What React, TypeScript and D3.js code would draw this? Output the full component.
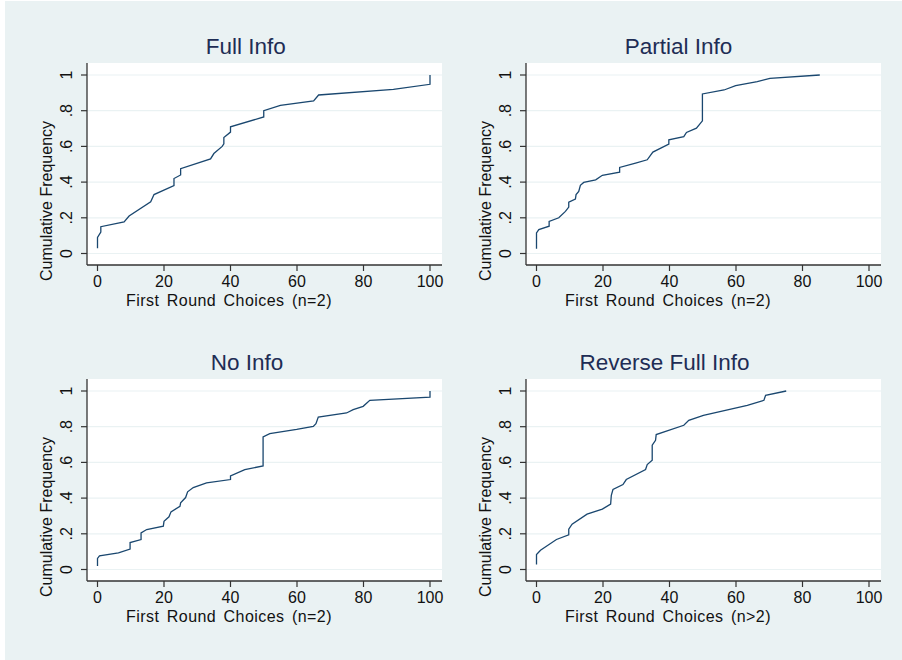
import React, { useRef, useEffect } from "react";
import * as d3 from "d3";

// cumulative frequency curves, [choice, cumulative share]
const fullInfo: [number, number][] = [
  [0, 0.03], [0, 0.09], [1, 0.12], [1, 0.15], [8, 0.177], [9.5, 0.21], [16, 0.29],
  [17, 0.33], [23, 0.38], [23, 0.42], [25, 0.44], [25, 0.475], [34, 0.53], [35, 0.56],
  [37.5, 0.6], [38, 0.614], [38, 0.65], [40, 0.68], [40, 0.71], [50, 0.765], [50, 0.8],
  [55, 0.83], [65, 0.855], [66.5, 0.888], [89, 0.92], [100, 0.948], [100, 1],
];

const partialInfo: [number, number][] = [
  [0, 0.026], [0, 0.115], [0.7, 0.134], [3.8, 0.153], [3.8, 0.18], [6.7, 0.2], [8.7, 0.236],
  [9.7, 0.26], [9.7, 0.287], [11.7, 0.305], [11.9, 0.33], [12.7, 0.348], [13.2, 0.382],
  [14.2, 0.398], [17.8, 0.413], [19.8, 0.438], [25, 0.456], [25, 0.482], [29.8, 0.506],
  [33.3, 0.525], [35, 0.568], [39.8, 0.613], [39.8, 0.637], [44.3, 0.655], [45.1, 0.678],
  [48.1, 0.702], [49.9, 0.743], [49.9, 0.894], [56.4, 0.916], [59.9, 0.94], [66.4, 0.963],
  [70.2, 0.981], [85.2, 1],
];

const noInfo: [number, number][] = [
  [0, 0.019], [0, 0.062], [0.6, 0.076], [6.3, 0.093], [9.8, 0.114], [9.8, 0.151],
  [13.1, 0.168], [13.1, 0.205], [14.8, 0.224], [19.8, 0.243], [20, 0.27], [21.5, 0.295],
  [22.1, 0.323], [24.8, 0.354], [25, 0.373], [26.5, 0.403], [27.1, 0.435], [28.8, 0.459],
  [32.8, 0.485], [40, 0.504], [40, 0.524], [44.3, 0.56], [49.8, 0.58], [49.8, 0.743],
  [51.8, 0.761], [59.9, 0.785], [64.9, 0.802], [65.7, 0.817], [66.4, 0.854], [74.9, 0.877],
  [76.9, 0.896], [79.9, 0.914], [81.9, 0.948], [100, 0.966], [100, 1],
];

const reverseFullInfo: [number, number][] = [
  [0, 0.028], [0, 0.084], [1.2, 0.108], [6, 0.168], [9.7, 0.194], [9.7, 0.226],
  [10.7, 0.254], [15.2, 0.31], [19.8, 0.338], [22.3, 0.366], [22.5, 0.416], [23, 0.448],
  [26, 0.476], [27, 0.504], [32.8, 0.56], [33.3, 0.588], [34.8, 0.612], [34.8, 0.696],
  [35.8, 0.724], [36, 0.756], [44.3, 0.808], [45.8, 0.836], [50.2, 0.864], [63.4, 0.92],
  [68.4, 0.948], [68.9, 0.976], [75.1, 1],
];

const titles = ["Full Info", "Partial Info", "No Info", "Reverse Full Info"];
const xTitles = [
  "First Round Choices (n=2)",
  "First Round Choices (n=2)",
  "First Round Choices (n=2)",
  "First Round Choices (n>2)",
];
const series = [fullInfo, partialInfo, noInfo, reverseFullInfo];
const xTicks = [0, 20, 40, 60, 80, 100];
const yTicks = [0, 0.2, 0.4, 0.6, 0.8, 1];
const yTickLabels = ["0", ".2", ".4", ".6", ".8", "1"];

// panel placement
const boxLeft = [87, 526, 87, 526];
const boxTop = [63, 63, 379, 379];
const titleX = [245.7, 678.5, 247, 664.5];
const boxW = 355;
const boxH = 202;

const FONT = "'Liberation Sans', Arial, sans-serif";
const LINE = "#1a476f";
const BG = "#eaf2f3";

const App = () => {
  const ref = useRef<SVGSVGElement>(null);

  useEffect(() => {
    if (!ref.current) return;
    const svg = d3.select(ref.current);
    svg.selectAll("*").remove();

    svg.append("rect").attr("x", 0).attr("y", 0).attr("width", 902).attr("height", 660).attr("fill", "#fff");
    svg.append("rect").attr("x", 5).attr("y", 1).attr("width", 897).attr("height", 659).attr("fill", BG);

    series.forEach((data, i) => {
      const left = boxLeft[i];
      const top = boxTop[i];
      const x = d3.scaleLinear().domain([0, 100]).range([left + 10.5, left + 343]);
      const y = d3.scaleLinear().domain([0, 1]).range([top + 190.5, top + 12]);
      const g = svg.append("g");

      g.append("rect")
        .attr("x", left).attr("y", top)
        .attr("width", boxW).attr("height", boxH)
        .attr("fill", "#fff");

      // gridlines
      g.selectAll(".grid")
        .data(yTicks)
        .enter()
        .append("line")
        .attr("x1", left).attr("x2", left + boxW)
        .attr("y1", (d) => y(d)).attr("y2", (d) => y(d))
        .attr("stroke", BG).attr("stroke-width", 1.2);

      // curve
      const ln = d3.line<[number, number]>().x((d) => x(d[0])).y((d) => y(d[1]));
      g.append("path")
        .datum(data)
        .attr("d", ln)
        .attr("fill", "none")
        .attr("stroke", LINE)
        .attr("stroke-width", 1.3);

      // axes
      g.append("line")
        .attr("x1", left).attr("x2", left)
        .attr("y1", top).attr("y2", top + boxH)
        .attr("stroke", "#333").attr("stroke-width", 1.3);
      g.append("line")
        .attr("x1", left).attr("x2", left + boxW)
        .attr("y1", top + boxH).attr("y2", top + boxH)
        .attr("stroke", "#333").attr("stroke-width", 1.3);

      g.selectAll(".xt")
        .data(xTicks)
        .enter()
        .append("line")
        .attr("x1", (d) => x(d)).attr("x2", (d) => x(d))
        .attr("y1", top + boxH).attr("y2", top + boxH + 6)
        .attr("stroke", "#333").attr("stroke-width", 1.2);
      g.selectAll(".xl")
        .data(xTicks)
        .enter()
        .append("text")
        .attr("x", (d) => x(d))
        .attr("y", top + boxH + 22)
        .attr("text-anchor", "middle")
        .attr("font-family", FONT)
        .attr("font-size", 16)
        .attr("fill", "#111")
        .text((d) => d);

      g.selectAll(".yt")
        .data(yTicks)
        .enter()
        .append("line")
        .attr("x1", left - 6).attr("x2", left)
        .attr("y1", (d) => y(d)).attr("y2", (d) => y(d))
        .attr("stroke", "#333").attr("stroke-width", 1.2);
      g.selectAll(".yl")
        .data(yTicks)
        .enter()
        .append("text")
        .attr("transform", (d) => `translate(${left - 15},${y(d)}) rotate(-90)`)
        .attr("text-anchor", "middle")
        .attr("font-family", FONT)
        .attr("font-size", 16)
        .attr("fill", "#111")
        .text((d, j) => yTickLabels[j]);

      // titles
      g.append("text")
        .attr("x", titleX[i])
        .attr("y", top - 9.5)
        .attr("text-anchor", "middle")
        .attr("font-family", FONT)
        .attr("font-size", 22.5)
        .attr("fill", "#1e2d55")
        .text(titles[i]);

      g.append("text")
        .attr("x", left + 142)
        .attr("y", top + boxH + 41)
        .attr("text-anchor", "middle")
        .attr("font-family", FONT)
        .attr("font-size", 16)
        .attr("letter-spacing", 0.45)
        .attr("word-spacing", 2.5)
        .attr("fill", "#111")
        .text(xTitles[i]);

      g.append("text")
        .attr("transform", `translate(${left - 35},${top + 138}) rotate(-90)`)
        .attr("text-anchor", "middle")
        .attr("font-family", FONT)
        .attr("font-size", 16)
        .attr("fill", "#111")
        .text("Cumulative Frequency");
    });
  }, []);

  return (
    <svg
      ref={ref}
      width={902}
      height={660}
      style={{ position: "absolute", left: 0, top: 0 }}
    />
  );
};

export default App;
